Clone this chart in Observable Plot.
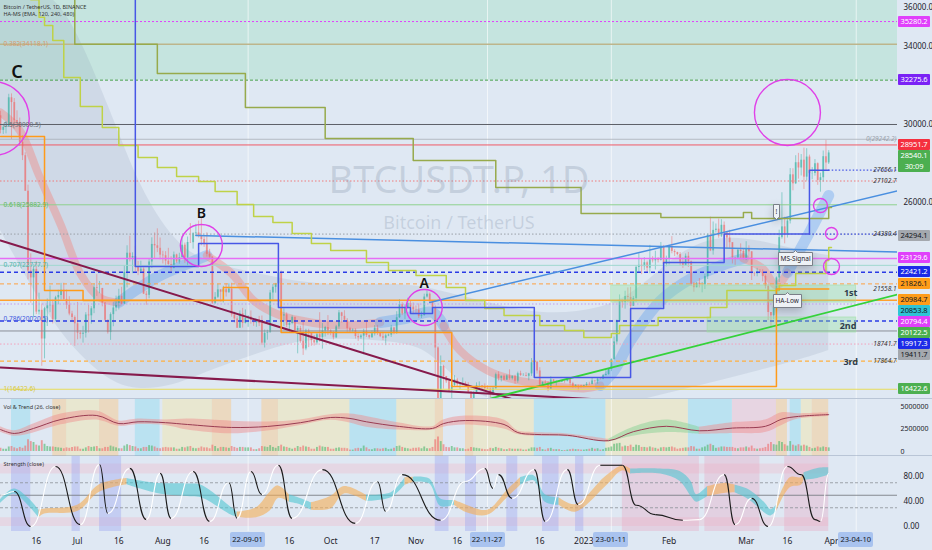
<!DOCTYPE html>
<html><head><meta charset="utf-8">
<script src="https://cdn.jsdelivr.net/npm/d3@7"></script>
<script src="https://cdn.jsdelivr.net/npm/@observablehq/plot@0.6"></script>
<style>
html,body{margin:0;padding:0;background:#dfe8f3;}
#wrap{position:relative;width:932px;height:550px;overflow:hidden;background:#dfe8f3;font-family:'Noto Sans',sans-serif;}
.pane{position:absolute;left:0;}
.pane svg{display:block}
.sep{border-top:1px solid rgba(140,155,180,0.45);}
.plab{position:absolute;left:898px;width:32px;height:11px;font-size:7.5px;line-height:11px;text-align:center;border-radius:1px;letter-spacing:-0.1px;white-space:nowrap}
.dlab{position:absolute;top:532px;height:15px;width:35px;background:#a9c3ef;color:#131722;font-size:7.5px;line-height:15px;text-align:center;border-radius:2px}
</style></head>
<body><div id="wrap"></div>
<script>
// ---------------- DATA ----------------
const startDate = "2022-06-03";
const endDate = "2023-04-25";
const firstOpen = 30450;
const closes = [
29700,29860,29900,31370,31125,30200,30110,29085,28400,26575,22485,22135,22570,20380,20470,19000,20550,20700,20730,19990,21110,21230,21500,21030,20730,20280,20100,19780,
19300,19240,19300,20230,20190,20550,21630,21590,21590,20850,19960,19330,20250,20590,20830,21190,20790,22420,23400,23150,23230,22690,22450,22580,21300,21240,22950,23850,23780,23650,23300,
23270,22990,22820,22620,23310,22950,23170,23810,23150,23950,23940,24400,24440,24300,24100,23850,23340,23200,20830,21140,21520,21400,21530,21370,21560,20240,20030,19550,20290,19800,20050,
20130,19950,19830,19990,19790,18790,19290,19320,21360,21650,21830,22400,20180,20240,19700,19800,20110,19420,19540,18880,18490,19400,19290,18920,18800,19220,19080,19410,19590,19420,
19310,19060,19620,20340,20160,19960,19530,19420,19450,19130,19060,19150,19380,19180,19070,19270,19550,19330,19120,19040,19160,19200,19570,19330,20090,20770,20290,20600,20820,20630,20490,
20480,20150,20200,21150,21300,20900,20600,18540,15880,17590,17070,16810,16330,16620,16900,16660,16690,16700,16630,16280,15780,16230,16600,16600,16520,16460,16430,16210,16440,17170,
16980,17090,16890,17110,16970,17090,16840,17220,17130,17130,17090,17210,17780,17810,17360,16630,16780,16740,16440,16900,16820,16830,16780,16840,16830,16920,16710,16550,16630,16600,16540,
16620,16680,16670,16850,16830,16950,16940,17120,17180,17440,17940,18850,19930,20950,20870,21180,21130,20680,21080,22670,22780,22710,22910,22630,23060,23010,23080,23030,23740,22830,23130,
23730,23490,23430,23330,22930,22760,23240,22960,21800,21630,21860,21780,21780,22200,24320,23520,24570,24630,24280,24830,24440,24180,23940,23170,23160,23550,23490,23130,
23640,23470,22350,22340,22430,22410,22200,21700,20360,20190,20630,22130,24200,24750,24380,25050,27420,26960,28040,27770,28170,27300,28330,27480,27490,27990,27130,27270,28350,28030,28540];
const highs = [
30680,29950,30150,31550,31570,31330,30700,30330,29420,28550,26890,23370,22800,22980,21350,20800,20620,21050,21720,21000,21190,21500,21850,21860,21510,21170,20420,20180,
20880,19430,19650,20350,20730,20660,21820,22300,21950,21600,20850,19970,20340,20850,21200,21550,21650,22750,23780,24270,23420,23750,22980,22990,22650,21440,23100,24190,24440,24650,24180,
23500,23480,23650,23220,23460,23350,23400,24250,23920,24230,24920,24450,24880,25050,25210,24240,24450,23600,23220,21380,21800,21520,21700,21840,21830,21860,20380,20150,20440,20570,20490,
20200,20440,20050,20000,20160,20180,19460,19450,21490,21800,21850,22800,22490,20550,20340,19890,20190,20100,19650,19650,19950,19500,19500,19320,19180,19310,20350,19790,19650,20200,
19480,19390,19700,20460,20370,20450,20050,19600,19520,19520,19260,19230,19500,19950,19210,19420,19690,19700,19350,19340,19250,19260,19700,19600,20400,21020,20860,20750,21090,20930,20850,
20690,20800,20390,21300,21470,21360,20670,20700,18600,18130,17650,17080,16950,17190,17120,16980,16740,17000,16800,16760,16290,16300,16750,16800,16600,16700,16600,16480,16520,17250,
17320,17100,17160,17160,17420,17110,17140,17300,17350,17220,17270,17240,18000,18390,17850,17530,16800,16870,16810,17060,16920,16850,16870,16870,16860,16950,16950,16780,16650,16620,16640,
16630,16770,16780,17000,16880,16990,16960,17180,17400,17490,17990,19100,19970,21260,21000,21450,21620,21650,21180,22750,23370,23080,23170,23000,23800,23220,23500,23170,23950,23800,23250,
23800,24250,23580,23450,23430,23160,23360,23440,23000,21900,21900,22100,21900,22320,24380,25250,25000,24900,25150,25120,25000,24490,24580,23880,23190,23630,23880,23600,
23990,23780,23480,22420,22620,22560,22550,22280,21810,20350,20820,22180,24580,26500,25250,25230,27740,27730,28400,28520,28460,28790,28760,28430,27790,28200,28030,27500,28640,29190,28660];
const lows = [
29520,29490,29520,29880,29230,29900,29920,28870,28150,26580,22030,20840,20080,20250,20230,17600,17980,19640,20350,19770,19890,20750,21000,20980,20520,20190,19850,18630,
18960,19000,18790,19050,19310,19760,20300,21180,21320,20650,19880,19250,18930,19630,20400,20490,20760,20770,21620,22950,22350,22450,22250,22350,21280,20730,21060,22620,23130,23430,23060,
22850,22680,22700,22430,22600,22880,22840,23150,22880,22700,23900,23610,24270,24180,23780,23700,23200,23100,20770,20770,21080,20900,20850,21150,21350,20120,19810,19550,19570,19560,19770,
19600,19760,19650,19600,19640,18680,18540,18940,19310,21000,21350,21560,19880,19640,19580,19340,19730,19360,18240,18780,18160,18400,18560,18630,18640,18690,18830,18480,19100,19180,
19170,18950,19020,19500,19820,19900,19340,19330,19350,19000,18880,18980,18190,19080,18990,19040,19150,19180,19070,18920,18660,19120,19080,19220,19240,20050,20200,20000,20540,20500,20250,
20300,20050,20050,20170,21100,20880,20400,17170,15580,15780,16430,16720,16250,15830,16550,16520,16410,16600,16550,16200,15480,15630,16180,16480,16370,16400,16400,15990,16100,16440,
16850,16800,16870,16880,16880,16900,16680,16730,17080,17080,17060,16860,17080,17640,17200,16560,16590,16700,16300,16400,16750,16580,16750,16780,16730,16800,16600,16480,16500,16350,16480,
16500,16560,16610,16650,16730,16680,16900,16910,17110,17140,17330,17930,18700,19890,20580,20530,20870,20420,20670,20880,22360,22300,22520,22400,22350,22900,22540,22900,23000,22650,22700,
22800,23370,23230,23270,22750,22620,22740,22670,21700,21400,21620,21620,21370,21540,22050,23480,23300,24440,24170,24200,24150,23610,23620,22850,22720,23070,23120,23060,
23020,23210,22000,22200,22190,22350,21930,21560,19950,19550,19990,20280,21900,24120,23880,24180,24900,26600,26920,27200,27360,26670,27100,27000,27170,27350,26880,26530,27050,27600,27950];
const volumes = [ // millions
0.35,0.25,0.25,0.5,0.55,0.4,0.3,0.45,0.35,0.6,1.3,1.1,1.0,0.7,0.6,1.2,0.8,0.55,0.5,0.5,0.45,0.4,0.35,0.3,0.4,0.35,0.45,0.5,
0.5,0.25,0.25,0.4,0.55,0.45,0.5,0.55,0.3,0.3,0.45,0.45,0.6,0.5,0.4,0.3,0.3,0.6,0.75,0.65,0.55,0.5,0.3,0.3,0.45,0.45,0.65,0.6,0.5,0.35,0.3,
0.4,0.45,0.4,0.4,0.4,0.25,0.25,0.45,0.4,0.5,0.55,0.35,0.3,0.35,0.5,0.4,0.4,0.3,0.7,0.55,0.3,0.45,0.45,0.4,0.35,0.55,0.45,0.35,0.45,0.45,0.4,
0.4,0.4,0.2,0.2,0.3,0.55,0.5,0.45,0.65,0.45,0.35,0.55,0.7,0.5,0.45,0.35,0.25,0.35,0.55,0.45,0.6,0.5,0.45,0.25,0.25,0.45,0.6,0.5,0.45,0.45,
0.25,0.25,0.35,0.4,0.35,0.35,0.3,0.15,0.15,0.3,0.35,0.3,0.6,0.4,0.2,0.2,0.3,0.3,0.25,0.3,0.35,0.2,0.25,0.35,0.55,0.6,0.45,0.35,0.3,0.25,0.35,
0.35,0.4,0.3,0.5,0.3,0.3,0.45,1.3,1.6,1.1,0.75,0.45,0.4,0.55,0.4,0.4,0.3,0.3,0.2,0.25,0.45,0.4,0.35,0.3,0.25,0.2,0.2,0.35,0.3,0.45,
0.35,0.3,0.2,0.2,0.3,0.25,0.25,0.25,0.25,0.15,0.15,0.25,0.4,0.4,0.35,0.45,0.2,0.15,0.3,0.35,0.2,0.2,0.2,0.1,0.1,0.15,0.2,0.25,0.2,0.2,0.15,
0.15,0.2,0.25,0.35,0.25,0.3,0.15,0.2,0.35,0.4,0.5,0.8,0.85,0.9,0.5,0.6,0.55,0.7,0.45,0.7,0.65,0.45,0.45,0.4,0.5,0.4,0.35,0.25,0.4,0.45,0.4,
0.45,0.5,0.4,0.25,0.3,0.35,0.4,0.4,0.55,0.5,0.25,0.25,0.4,0.5,0.7,0.8,0.65,0.35,0.4,0.5,0.5,0.45,0.45,0.45,0.35,0.3,0.4,0.4,
0.5,0.4,0.6,0.3,0.25,0.3,0.35,0.45,0.8,1.0,0.75,0.7,1.1,1.0,0.75,0.6,1.1,0.7,0.6,0.75,0.6,0.7,0.6,0.45,0.3,0.35,0.5,0.4,0.5,0.45,0.4];

// horizontal levels
const levels = [35280.2,34118.1,32275.6,30000.5,29242.2,28951.7,27102.7,25882.9,24380.4,23129.6,22777.7,22421.2,21826.1,20984.7,20794.4,19917.3,19411.7,18741.7,17864.7,16422.6];
const greenZone = [32275.6, 40000];
const fibRatios = [0.382,0.5,0.618,0.707,0.786,1];
const fibPrices = [34118.1,30000.5,25882.9,22777.7,20020.5,16422.6];
const rightTagVals = [29242.2,27656.1,27102.7,24380.4,21558.1,18741.7,17864.7];
const priceTags = [35280.2,32275.6,28951.7,28540.1,24294.1,23129.6,22421.2,21826.1,20984.7,20853.8,20794.4,20122.5,19917.3,19411.7,16422.6];
const countdown = "30:09";
const yTicks = [26000,30000,34000,36000];

// step lines
const olive1Dates = ["2022-06-23","2022-06-30","2022-07-30","2022-08-31","2022-09-29","2022-10-31","2022-11-30","2022-12-31","2023-01-29","2023-02-28","2023-03-03","2023-03-31","2023-04-01"];
const olive1Vals = [37000,34118,32615,30872,29282,28154,26770,25436,25231,25487,25180,25744,25744];
const olive2Dates = ["2022-06-14","2022-06-17","2022-06-19","2022-06-22","2022-06-26","2022-07-02","2022-07-10","2022-07-16","2022-07-23","2022-07-30","2022-08-06","2022-08-14","2022-08-20","2022-08-28","2022-09-03","2022-09-10","2022-09-17","2022-09-24","2022-10-01","2022-10-14","2022-10-22","2022-11-01","2022-11-12","2022-11-19","2022-11-26","2022-12-03","2022-12-16","2022-12-25","2023-01-01","2023-01-11","2023-01-14","2023-01-28","2023-02-16","2023-02-22","2023-03-13","2023-03-19","2023-03-30","2023-03-31","2023-04-01"];
const olive2Vals = [36400,35500,35077,34308,32410,30923,29846,28923,28308,27795,27333,27077,26564,25898,25282,24975,24411,23898,23539,22923,22513,22257,21641,20975,20564,20206,19693,19437,19078,19283,19693,20103,20616,21487,21744,22359,23026,23693,23693];
const blueStepDates = ["2022-07-21","2022-07-22","2022-08-14","2022-09-12","2022-10-30","2022-11-07","2022-12-14","2023-01-18","2023-01-30","2023-02-21","2023-03-24","2023-03-31"];
const blueStepVals = [37000,22718,23898,20616,20308,20616,17026,20564,22923,24380,27656,27656];
const blueDotDates = [["2023-03-31","2023-04-25"],["2023-03-24","2023-04-25"]];
const blueDotVals = [27656.1,24380.4];
const orangeStepDates = ["2022-06-03","2022-06-19","2022-07-03","2022-08-23","2022-09-01","2022-09-13","2022-11-14","2023-03-12","2023-03-31"];
const orangeStepVals = [29385,21487,20975,21641,20975,19334,16565,21558,21558];

// trend lines (two end points each)
const maroon1 = [["2022-06-03",24052],["2023-01-07",14513]];
const maroon2 = [["2022-06-03",17539],["2023-01-07",15898]];
const blueDown = [["2022-08-13",24308],["2023-04-25",23460]];
const blueUp = [["2022-11-06",20872],["2023-04-25",26595]];
const greenUp = [["2022-11-28",15949],["2023-04-25",21282]];

// EMA ribbon
const ribbonDates = ["2022-06-03","2022-06-10","2022-06-17","2022-06-25","2022-07-02","2022-07-09","2022-07-16","2022-07-22","2022-07-31","2022-08-11","2022-08-17","2022-08-26","2022-09-03","2022-09-11","2022-09-20","2022-10-04","2022-10-19","2022-10-28","2022-11-07","2022-11-11","2022-11-17","2022-11-27","2022-12-05","2022-12-20","2023-01-01","2023-01-07","2023-01-12","2023-01-18","2023-01-29","2023-02-09","2023-02-20","2023-02-28","2023-03-07","2023-03-12","2023-03-16","2023-03-24","2023-03-31"];
const ribbonVals = [30615,29693,27385,24821,22359,21129,20872,21487,22257,22923,23282,22359,20975,20308,19949,19693,19847,20052,20360,19693,18411,17385,16975,16616,16462,16616,17385,18923,20975,22103,22770,23128,22616,21744,22410,24462,26360];
const ribbonState = ["r","r","r","r","r","r","b","b","b","b","r","r","r","r","r","r","b","b","b","r","r","r","r","r","r","b","b","b","b","b","b","r","r","r","b","b","b"];

// HA-MS cloud
const cloudDates = ["2022-06-03","2022-06-17","2022-06-28","2022-07-13","2022-07-24","2022-08-05","2022-08-14","2022-08-26","2022-09-08","2022-09-20","2022-10-04","2022-10-19","2022-11-02","2022-11-09","2022-11-24","2022-12-16","2023-01-07","2023-01-21","2023-02-05","2023-02-20","2023-03-06","2023-03-20","2023-03-31"];
const cloudHi = [37500,37000,35846,30718,26615,24052,23128,22616,22257,21898,21744,21846,21744,21487,20975,20206,20462,21487,23539,24308,24052,23539,23282];
const cloudLo = [24565,20975,18667,16719,16359,16616,17128,17795,18410,18923,19026,18923,18667,17898,15846,15333,15333,15846,16359,16872,17385,17898,18410];

// support zones and annotations
const zoneDates = [["2023-01-11","2023-04-10"],["2023-02-15","2023-04-10"]];
const zoneVals = [[20872,21744],[19334,20103]];
const zoneNames = ["1st","2nd","3rd"];
const zoneNameDates = ["2023-04-08","2023-04-07","2023-04-08"];
const zoneNameVals = [21334,19641,17795];
const waveNames = ["C","B","A"];
const waveDates = ["2022-06-09","2022-08-15","2022-11-04"];
const waveVals = [32667,25436,21846];
const circleDates = ["2022-05-31","2022-08-15","2022-11-04","2023-03-16","2023-03-28","2023-04-01","2023-04-01"];
const circleVals = [30308,23795,20616,30615,25846,24410,22718];
const signalNames = ["MS-Signal","HA-Low"];
const signalDates = ["2023-03-19","2023-03-16"];
const signalVals = [23539,21385];
const flagDate = "2023-03-12", flagVal = 25128, flagText = "!";
const legendLines = ["Bitcoin / TetherUS, 1D, BINANCE","HA-MS (EMA, 120, 240, 480)"];
const markedDates = ["2022-09-01","2022-11-27","2023-01-11","2023-04-10"];
const markedLabels = ["22-09-01","22-11-27","23-01-11","23-04-10"];
const xTickDates = ["2022-06-16","2022-07-01","2022-07-16","2022-08-01","2022-08-16","2022-09-16","2022-10-01","2022-10-17","2022-11-01","2022-11-16","2022-12-16","2023-01-01","2023-02-01","2023-03-01","2023-03-16","2023-04-01"];
const xTickLabels = ["16","Jul","16","Aug","16","16","Oct","17","Nov","16","16","2023","Feb","Mar","16","Apr"];

// volume trend pane
const volTrendDates = ["2022-06-03","2022-06-08","2022-06-15","2022-06-25","2022-07-08","2022-07-16","2022-07-23","2022-08-02","2022-08-10","2022-08-26","2022-09-08","2022-09-20","2022-10-01","2022-10-08","2022-10-14","2022-10-26","2022-11-07","2022-11-11","2022-11-19","2022-12-03","2022-12-08","2022-12-14","2022-12-26","2023-01-10","2023-01-19","2023-01-31","2023-02-12","2023-02-24","2023-03-08","2023-03-14","2023-03-20","2023-03-31"];
const volTrendVals = [2.44,2.0,2.56,3.56,4.0,3.1,3.3,3.2,3.0,2.67,2.78,3.2,3.78,3.67,3.3,2.78,2.56,3.1,3.44,3.0,2.1,1.9,1.8,1.2,2.2,2.8,2.3,2.6,2.8,3.6,3.9,4.1];
const volTrendSpread = [0.3,0.3,0.5,0.6,0.5,0.3,0.3,0.3,0.6,0.7,0.5,0.3,0.3,0.5,0.6,0.4,0.2,0.4,0.5,0.5,0.2,0.2,0.15,0.15,0.5,0.7,0.4,0.6,0.7,0.7,0.3,0.2];
const volTrendState = ["r","r","r","r","r","r","r","r","r","r","r","r","r","r","r","r","r","r","r","r","r","r","r","g","g","g","r","r","r","r","r","r"];
const volCyan = [["2022-06-07","2022-06-14"],["2022-07-22","2022-07-31"],["2022-10-08","2022-10-25"],["2022-12-14","2023-01-09"],["2023-02-08","2023-02-24"],["2023-03-17","2023-03-21"]];
const volOrange = [["2022-06-22","2022-06-27"],["2022-07-09","2022-07-16"],["2022-08-19","2022-08-26"],["2022-09-06","2022-09-12"],["2022-11-08","2022-11-11"],["2022-11-19","2022-11-22"],["2023-03-12","2023-03-16"],["2023-03-25","2023-03-31"]];
const volYellow = [["2022-06-27","2022-07-09"],["2022-08-01","2022-08-19"],["2022-09-12","2022-10-08"],["2022-10-25","2022-11-08"],["2022-11-22","2022-12-14"],["2023-01-09","2023-02-08"],["2023-03-21","2023-03-25"]];
const volPink = [["2023-02-24","2023-03-12"]];

// strength pane
const oscDates = ["2022-06-03","2022-06-08","2022-06-14","2022-06-23","2022-07-02","2022-07-09","2022-07-12","2022-07-20","2022-07-26","2022-07-31","2022-08-04","2022-08-12","2022-08-18","2022-08-25","2022-08-28","2022-09-02","2022-09-06","2022-09-12","2022-09-17","2022-09-28","2022-10-10","2022-10-18","2022-10-21","2022-10-27","2022-11-10","2022-11-19","2022-11-26","2022-11-29","2022-12-01","2022-12-06","2022-12-14","2022-12-18","2022-12-26","2022-12-30","2023-01-07","2023-01-15","2023-01-20","2023-01-27","2023-02-06","2023-02-12","2023-02-21","2023-02-25","2023-03-03","2023-03-09","2023-03-16","2023-03-21","2023-03-26","2023-03-28","2023-03-31"];
const oscVals = [50,56,0,96,3,99,21,93,11,85,13,88,8,70,13,88,51,98,13,91,5,72,24,83,10,72,93,61,83,45,91,8,91,35,98,98,34,19,10,11,83,3,45,0,96,83,11,8,85];
const bandDates = ["2022-06-03","2022-06-08","2022-06-13","2022-06-17","2022-06-19","2022-07-01","2022-07-09","2022-07-19","2022-07-30","2022-08-10","2022-08-15","2022-08-26","2022-08-28","2022-09-04","2022-09-09","2022-09-12","2022-09-16","2022-09-20","2022-09-24","2022-10-01","2022-10-06","2022-10-14","2022-10-23","2022-10-28","2022-10-31","2022-11-06","2022-11-10","2022-11-15","2022-11-19","2022-11-27","2022-12-04","2022-12-09","2022-12-14","2022-12-18","2022-12-23","2022-12-29","2023-01-09","2023-01-15","2023-01-18","2023-01-29","2023-02-05","2023-02-09","2023-02-11","2023-02-15","2023-02-21","2023-02-25","2023-03-02","2023-03-08","2023-03-10","2023-03-12","2023-03-17","2023-03-21","2023-03-22","2023-03-27","2023-03-31"];
const bandMid = [40,56,40,20,24,29,61,72,61,58,56,24,19,22,40,55,45,40,32,38,58,45,50,72,75,72,38,38,29,22,51,72,77,45,40,29,72,93,88,88,80,60,45,56,61,60,51,29,22,29,70,72,80,85,88];
const bandHalf = [3,4,6,6,4,5,6,5,8,10,10,6,4,8,15,10,6,5,6,10,6,5,4,6,4,4,6,4,6,4,6,6,4,6,6,6,8,4,4,4,8,12,6,8,8,6,8,8,5,5,8,6,6,8,6];
const bandState = ["t","t","t","o","o","o","o","t","t","t","t","t","o","o","o","o","t","t","o","o","o","t","t","o","t","t","t","o","o","o","o","t","t","t","o","o","o","o","t","t","t","t","t","o","o","t","t","t","t","o","o","o","t","t","t"];
const strBlue = [["2022-06-07","2022-06-14"],["2022-06-29","2022-07-02"],["2022-07-09","2022-07-17"],["2022-11-08","2022-11-13"],["2022-11-19","2022-11-23"],["2022-12-04","2022-12-08"],["2022-12-17","2022-12-23"],["2022-12-29","2023-01-01"]];
const strPink = [["2023-01-15","2023-02-12"],["2023-02-14","2023-03-06"],["2023-03-15","2023-03-31"]];
const strZones = [[0,14],[84,100]];
const strDashed = [30,70];
const strMid = [50];

// ---------------- BUILD ----------------
const N = closes.length;
if (highs.length!==N||lows.length!==N||volumes.length!==N) throw new Error(`lengths ${N} ${highs.length} ${lows.length} ${volumes.length}`);
const P = s => new Date(s);
const t0 = +P(startDate), DAY = 864e5;
const candles = closes.map((c,i)=>{const o=i?closes[i-1]:firstOpen;return {date:new Date(t0+i*DAY),o,c,h:Math.max(highs[i],o,c),l:Math.min(lows[i],o,c),v:volumes[i],up:c>=o};});
const lastDate = candles[N-1].date;
const X = {type:"utc", domain:[P(startDate),P(endDate)], axis:null};
const baseStyle = {background:"transparent", fontFamily:"'Noto Sans',sans-serif", fontSize:"8px", color:"#1e222b", overflow:"visible"};

function segRuns(dates, keys, extra){
  const out=[]; let run=-1, cur=null;
  const pt=i=>Object.assign({date:P(dates[i])}, extra(i));
  for(let i=0;i<dates.length-1;i++){
    const k=keys[i];
    if(k!==cur){run++;cur=k;out.push({...pt(i),run,k});}
    out.push({...pt(i+1),run,k});
  }
  return out;
}
const pts = (ds, vs) => ds.map((d,i)=>({date:P(d), p:vs[i]}));
const two = arr => arr.map(([d,p])=>({date:P(d), p}));
const spans = arr => arr.map(([a,b])=>({a:P(a), b:P(b)}));

const UP="#2fae9f", DOWN="#ee6666";
const levelLook = [
 ["#e040fb","2,2",1],["#bdb58c",null,1.5],["#43a047","3,2",1],["#5d6068",null,1],["#aab0b8",null,0.8],
 ["#f05a66",null,1],["#f07a7a","1.5,2",1],["#8fd18f",null,1],["#9aa0a8","1.5,2",1],["#e66ef5",null,1.6],
 ["#9fd8cf",null,1],["#2b3be6","4,3",1.5],["#ffa040","4,3",1],["#ffa02e",null,1.6],["#c49af0","1.5,2",1.2],
 ["#2b3be6","4,3",1.5],["#8a8f98",null,1],["#f4a0bc","1.5,2",1],["#ffb040","4,3",1.2],["#e8dc5a",null,1]];
const fibColors = ["#d69a6e","#6a6f78","#5fb763","#4fb3a9","#4058e0","#d9c83a"];
const circleR = [37,21,18,33,7,6,8];

const ribbonRuns = segRuns(ribbonDates, ribbonState, i=>({p:ribbonVals[i]}));
const cloud = cloudDates.map((d,i)=>({date:P(d), hi:cloudHi[i], lo:cloudLo[i]}));

const mainMarks = [
  Plot.rect([greenZone], {y1:d=>d[0], y2:d=>d[1], fill:"#6ad69a", fillOpacity:0.22, clip:true}),
  Plot.areaY(cloud, {x:"date", y1:"lo", y2:"hi", fill:"#7a8ca6", fillOpacity:0.16, curve:"basis", clip:true}),
  Plot.ruleX(markedDates.map(P), {stroke:"#ffffff", strokeOpacity:0.6}),
  Plot.line(ribbonRuns, {x:"date", y:"p", z:"run", stroke:d=>d.k==="r"?"#f2837b":"#66a6f0", strokeWidth:d=>d.k==="r"?8:11, strokeOpacity:0.4, curve:"catmull-rom", clip:true}),
  Plot.ruleX(candles, {x:"date", y1:"l", y2:"h", stroke:d=>d.up?UP:DOWN, strokeOpacity:0.6, strokeWidth:0.8, clip:true}),
  Plot.ruleX(candles, {x:"date", y1:"o", y2:"c", stroke:d=>d.up?UP:DOWN, strokeOpacity:0.55, strokeWidth:1.9, clip:true}),
  ...levels.map((p,i)=>Plot.ruleY([p], {stroke:levelLook[i][0], strokeDasharray:levelLook[i][1]||undefined, strokeWidth:levelLook[i][2]})),
  Plot.rect(zoneDates.map(([a,b],i)=>({a:P(a),b:P(b),lo:zoneVals[i][0],hi:zoneVals[i][1]})), {x1:"a", x2:"b", y1:"lo", y2:"hi", fill:"#8fe39a", fillOpacity:0.35, stroke:"#9ee0a5", strokeOpacity:0.6}),
  Plot.line(two(maroon1), {x:"date", y:"p", stroke:"#861a4c", strokeWidth:2, clip:true}),
  Plot.line(two(maroon2), {x:"date", y:"p", stroke:"#861a4c", strokeWidth:2, clip:true}),
  Plot.line(two(blueDown), {x:"date", y:"p", stroke:"#4a8fe0", strokeWidth:1.5, clip:true}),
  Plot.line(two(blueUp), {x:"date", y:"p", stroke:"#4a8fe0", strokeWidth:1.5, clip:true}),
  Plot.line(two(greenUp), {x:"date", y:"p", stroke:"#34d23a", strokeWidth:1.8, clip:true}),
  Plot.line(pts(olive1Dates, olive1Vals), {x:"date", y:"p", curve:"step-after", stroke:"#97aa4c", strokeWidth:1.5, clip:true}),
  Plot.line(pts(olive2Dates, olive2Vals), {x:"date", y:"p", curve:"step-after", stroke:"#bfd247", strokeWidth:1.5, clip:true}),
  Plot.line(pts(orangeStepDates, orangeStepVals), {x:"date", y:"p", curve:"step-after", stroke:"#ff9b1a", strokeWidth:1.5, clip:true}),
  Plot.line(pts(blueStepDates, blueStepVals), {x:"date", y:"p", curve:"step-after", stroke:"#4757e6", strokeWidth:1.5, clip:true}),
  ...blueDotDates.map(([a,b],i)=>Plot.ruleY([blueDotVals[i]], {x1:P(a), x2:P(b), stroke:"#4757e6", strokeDasharray:"1.5,2", strokeWidth:1.2})),
  ...circleDates.map((d,i)=>Plot.dot([{date:P(d), p:circleVals[i]}], {x:"date", y:"p", r:circleR[i], stroke:"#e040e8", strokeWidth:1.4, fill:"none", clip:true})),
  Plot.text(["BTCUSDT.P, 1D"], {frameAnchor:"middle", dx:10, dy:-19, text:d=>d, fontSize:38, fill:"#8190a8", fillOpacity:0.28}),
  Plot.text(["Bitcoin / TetherUS"], {frameAnchor:"middle", dx:10, dy:24, text:d=>d, fontSize:18, fill:"#8190a8", fillOpacity:0.28}),
  Plot.text([legendLines[0]], {frameAnchor:"top-left", dx:3, dy:5, text:d=>d, fontSize:5.5, fill:"#333"}),
  Plot.text([legendLines[1]], {frameAnchor:"top-left", dx:3, dy:12, text:d=>d, fontSize:5.5, fill:"#333"}),
  Plot.text(fibPrices.map((p,i)=>({p, t:`${fibRatios[i]}(${p})`, c:fibColors[i]})), {y:"p", text:"t", fill:"c", frameAnchor:"left", textAnchor:"start", dx:3, fontSize:6.5}),
  Plot.text(rightTagVals.map((p,i)=>({p, t: i===0?`0(${p})`:p.toFixed(1), c: i===0?"#9aa0aa":"#333"})), {y:"p", text:"t", fill:"c", frameAnchor:"right", textAnchor:"end", dx:-1, fontSize:6.5, fontStyle:"italic"}),
  ...waveNames.map((t,i)=>Plot.text([{t, date:P(waveDates[i]), p:waveVals[i]}], {x:"date", y:"p", text:"t", fontSize:t==="C"?18:14, fontWeight:600, fill:"#111"})),
  Plot.text(zoneNames.map((t,i)=>({t, date:P(zoneNameDates[i]), p:zoneNameVals[i]})), {x:"date", y:"p", text:"t", fontSize:9, fontWeight:700, fill:"#2f3d4c"}),
  Plot.axisY(yTicks, {anchor:"right", tickSize:0, tickPadding:6, tickFormat:d=>d.toFixed(1), fontSize:8}),
];
try {
  mainMarks.push(Plot.tip(signalNames.map((t,i)=>({t, date:P(signalDates[i]), p:signalVals[i]})), {x:"date", y:"p", title:"t", anchor:"top", fontSize:6.5, textPadding:2, pointerSize:4, fill:"#eef2f6", stroke:"#7a7f88"}));
  mainMarks.push(Plot.tip([{t:flagText, date:P(flagDate), p:flagVal}], {x:"date", y:"p", title:"t", anchor:"bottom", fontSize:6.5, textPadding:2, pointerSize:4, fill:"#eef2f6", stroke:"#7a7f88"}));
} catch(e) {}

const mainPlot = Plot.plot({
  width:932, height:398, marginLeft:0, marginRight:35, marginTop:0, marginBottom:0,
  x:X, y:{domain:[15949,36359], axis:null}, color:{type:"identity"},
  style:baseStyle, marks:mainMarks
});

const volBand = segRuns(volTrendDates, volTrendState, i=>({lo:volTrendVals[i]-volTrendSpread[i], hi:volTrendVals[i]+volTrendSpread[i]}));
const volPlot = Plot.plot({
  width:932, height:57, marginLeft:0, marginRight:35, marginTop:0, marginBottom:0,
  x:X, y:{domain:[-0.56,5.78], axis:null}, color:{type:"identity"}, style:baseStyle,
  marks:[
    Plot.rect(spans(volYellow), {x1:"a", x2:"b", fill:"#f3e6a6", fillOpacity:0.45}),
    Plot.rect(spans(volCyan), {x1:"a", x2:"b", fill:"#8fdcef", fillOpacity:0.45}),
    Plot.rect(spans(volOrange), {x1:"a", x2:"b", fill:"#f7c98e", fillOpacity:0.5}),
    Plot.rect(spans(volPink), {x1:"a", x2:"b", fill:"#f2b9c8", fillOpacity:0.4}),
    Plot.ruleX(markedDates.map(P), {stroke:"#ffffff", strokeOpacity:0.6}),
    Plot.areaY(volBand, {x:"date", y1:"lo", y2:"hi", z:"run", fill:d=>d.k==="g"?"#7fcf8f":"#f08a8a", fillOpacity:0.45, curve:"catmull-rom"}),
    Plot.line(pts(volTrendDates, volTrendVals), {x:"date", y:"p", stroke:"#9a3c52", strokeWidth:1, curve:"catmull-rom"}),
    Plot.ruleX(candles, {x:"date", y1:0, y2:"v", stroke:d=>d.up?"#4cb56a":"#ee6a6a", strokeOpacity:0.6, strokeWidth:1.9}),
    Plot.text(["Vol & Trend (26, close)"], {frameAnchor:"top-left", dx:3, dy:6, text:d=>d, fontSize:5.5, fill:"#333"}),
    Plot.axisY([0,2.5,5], {anchor:"right", tickSize:0, tickPadding:3, tickFormat:d=>(d*1e6).toFixed(0), fontSize:7}),
  ]
});

const bandRuns = segRuns(bandDates, bandState, i=>({lo:bandMid[i]-bandHalf[i], hi:bandMid[i]+bandHalf[i]}));
const oscSegs = oscDates.slice(1).map((d,i)=>({x1:P(oscDates[i]), y1:oscVals[i], x2:P(d), y2:oscVals[i+1]}));
const tickMap = new Map(xTickDates.map((d,i)=>[+P(d), xTickLabels[i]]));
const strPlot = Plot.plot({
  width:932, height:95, marginLeft:0, marginRight:35, marginTop:0, marginBottom:20,
  x:X, y:{domain:[-8,112], axis:null}, color:{type:"identity"}, style:baseStyle,
  marks:[
    Plot.rect(strZones, {x1:P(startDate), x2:lastDate, y1:d=>d[0], y2:d=>d[1], fill:"#f2b8c8", fillOpacity:0.35}),
    Plot.rect(spans(strBlue), {x1:"a", x2:"b", fill:"#9aa6f0", fillOpacity:0.4}),
    Plot.rect(spans(strPink), {x1:"a", x2:"b", fill:"#e7a3c0", fillOpacity:0.35}),
    Plot.ruleX(markedDates.map(P), {stroke:"#ffffff", strokeOpacity:0.6}),
    Plot.ruleY(strDashed, {stroke:"#8c9098", strokeDasharray:"3,2", strokeWidth:0.8}),
    Plot.ruleY(strMid, {stroke:"#7a7e86", strokeWidth:0.9}),
    Plot.areaY(bandRuns, {x:"date", y1:"lo", y2:"hi", z:"run", fill:d=>d.k==="o"?"#f5ad55":"#52c6d2", fillOpacity:0.6, curve:"catmull-rom"}),
    Plot.link(oscSegs, {x1:"x1", y1:"y1", x2:"x2", y2:"y2", stroke:d=>d.y2>d.y1?"#ffffff":"#1b1b1b", strokeWidth:1.1, curve:"bump-x"}),
    Plot.text(["Strength (close)"], {frameAnchor:"top-left", dx:3, dy:6, text:d=>d, fontSize:5.5, fill:"#333"}),
    Plot.axisY([0,40,80], {anchor:"right", tickSize:0, tickPadding:6, tickFormat:d=>d.toFixed(2), fontSize:8}),
    Plot.axisX(xTickDates.map(P), {anchor:"bottom", tickSize:0, tickPadding:6, tickFormat:d=>tickMap.get(+d), fontSize:8.5}),
  ]
});

// ---------------- ASSEMBLE ----------------
const wrap = document.getElementById("wrap");
function addPane(svg, top, cls){const d=document.createElement("div");d.className="pane"+(cls?" "+cls:"");d.style.top=top+"px";d.appendChild(svg);wrap.appendChild(d);}
addPane(mainPlot, 0);
addPane(volPlot, 398, "sep");
addPane(strPlot, 455, "sep");

const tagLook = [
 ["#e040fb","#fff"],["#7a22f5","#fff"],["#f5303f","#fff"],["#4caf50","#fff"],["#a4a8ae","#131722"],["#e040fb","#fff"],["#1d2be8","#fff"],["#ff9c1a","#131722"],["#ff9c1a","#131722"],["#2ec4d6","#131722"],["#e040fb","#fff"],["#4caf50","#fff"],["#1d2be8","#fff"],["#a4a8ae","#131722"],["#4caf50","#fff"]];
const ys = mainPlot.scale("y");
const tags = priceTags.map((v,i)=>({v, i, y:ys.apply(v), h: v===28540.1?22:11})).sort((a,b)=>a.y-b.y);
let prevBottom = -Infinity;
for (const t of tags) {
  const top = Math.max(t.y-5.5, prevBottom);
  prevBottom = top + t.h;
  const el = document.createElement("div");
  el.className = "plab";
  el.style.top = top+"px"; el.style.height = t.h+"px";
  el.style.background = tagLook[t.i][0]; el.style.color = tagLook[t.i][1];
  el.innerHTML = t.v.toFixed(1) + (t.h>11 ? "<br>"+countdown : "");
  wrap.appendChild(el);
}
const xs = strPlot.scale("x");
markedDates.forEach((d,i)=>{
  const el=document.createElement("div"); el.className="dlab";
  el.style.left=(xs.apply(P(d))-17.5)+"px"; el.textContent=markedLabels[i]; wrap.appendChild(el);
});
</script></body></html>
